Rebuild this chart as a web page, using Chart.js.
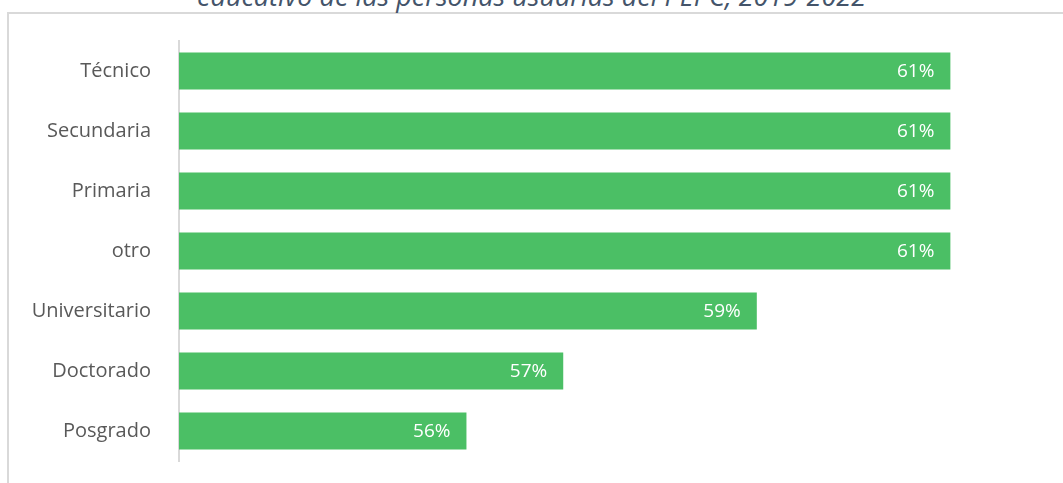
<!DOCTYPE html>
<html lang="es">
<head>
    <meta charset="UTF-8">
    <title>Nivel educativo PEPC</title>
    <script src="https://cdn.jsdelivr.net/npm/chart.js"></script>
    <style>
        html, body {
            margin: 0;
            padding: 0;
            background: #fff;
            overflow: hidden;
        }
        #wrap {
            position: relative;
            width: 1063px;
            height: 483px;
            overflow: hidden;
        }
        #frame {
            position: absolute;
            left: 7px;
            top: 12px;
            width: 1100px;
            height: 520px;
            border: 2px solid #d9d9d9;
        }
        #title {
            position: absolute;
            left: 0;
            width: 1063px;
            top: -23px;
            text-align: center;
            font-family: "Open Sans", sans-serif;
            font-style: italic;
            font-size: 27px;
            color: #44546a;
            white-space: nowrap;
        }
        #chart {
            position: absolute;
            left: 0;
            top: 0;
        }
    </style>
</head>
<body>
<div id="wrap">
    <div id="frame"></div>
    <div id="title">educativo de las personas usuarias del PEPC, 2019-2022</div>
    <canvas id="chart" width="1063" height="483"></canvas>
</div>

<script>
    const categories = ['Técnico', 'Secundaria', 'Primaria', 'otro', 'Universitario', 'Doctorado', 'Posgrado'];
    const values = [61, 61, 61, 61, 59, 57, 56];
    const valueLabels = ['61%', '61%', '61%', '61%', '59%', '57%', '56%'];

    // etiquetas blancas dentro del final de cada barra
    const insideLabels = {
        id: 'insideLabels',
        afterDatasetsDraw(chart) {
            const ctx = chart.ctx;
            const meta = chart.getDatasetMeta(0);
            ctx.save();
            ctx.font = '19px "Open Sans", sans-serif';
            ctx.fillStyle = '#ffffff';
            ctx.textAlign = 'right';
            ctx.textBaseline = 'middle';
            meta.data.forEach((bar, i) => {
                ctx.fillText(valueLabels[i], bar.x - 16, bar.y + 1);
            });
            ctx.restore();
        }
    };

    new Chart(document.getElementById('chart'), {
        type: 'bar',
        data: {
            labels: categories,
            datasets: [{
                data: values,
                backgroundColor: '#4bbf65',
                barPercentage: 0.62,
                categoryPercentage: 1.0
            }]
        },
        options: {
            indexAxis: 'y',
            responsive: false,
            animation: false,
            layout: {
                padding: { left: 0, right: 11, top: 41, bottom: 22 }
            },
            plugins: {
                legend: { display: false },
                tooltip: { enabled: false }
            },
            scales: {
                x: {
                    display: false,
                    min: 53.03,
                    max: 62.05
                },
                y: {
                    grid: { display: false, drawTicks: false },
                    border: { display: true, color: '#d9d9d9', width: 2 },
                    ticks: {
                        padding: 28,
                        color: '#595959',
                        font: { family: '"Open Sans", sans-serif', size: 20 }
                    },
                    afterFit(scale) {
                        scale.width = 179;
                        // el padding de las etiquetas no debe recortar el área
                        scale.paddingTop = 0;
                        scale.paddingBottom = 0;
                    }
                }
            }
        },
        plugins: [insideLabels]
    });
</script>
</body>
</html>
